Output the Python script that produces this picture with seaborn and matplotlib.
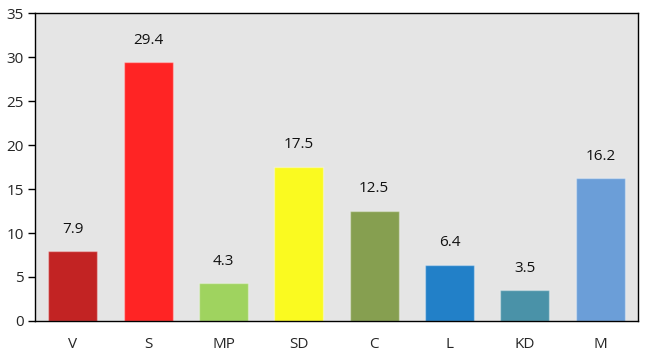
import matplotlib
matplotlib.use("Agg")
import matplotlib.pyplot as plt
import seaborn as sns
import pandas as pd

parties = ["V", "S", "MP", "SD", "C", "L", "KD", "M"]
values = [7.9, 29.4, 4.3, 17.5, 12.5, 6.4, 3.5, 16.2]
colors = ["#c22323", "#ff2424", "#9fd35f", "#fafa20", "#869f50", "#2280c8", "#4a92a8", "#6b9ed8"]
yticks = [0, 5, 10, 15, 20, 25, 30, 35]

sns.set_style("white")
plt.rcParams["font.family"] = ["Open Sans", "DejaVu Sans"]

df = pd.DataFrame({"party": parties, "value": values})

fig = plt.figure(figsize=(6.46, 3.55), dpi=100)
ax = fig.add_axes([35/646, 1 - 321/355, (638-35)/646, (321-13)/355])
ax.set_facecolor("#e5e5e5")

sns.barplot(data=df, x="party", y="value", hue="party", palette=colors,
            legend=False, width=0.65, ax=ax, saturation=1,
            edgecolor=(1, 1, 1, 0.35), linewidth=1)

for i, v in enumerate(values):
    ax.annotate(f"{v}", (i, v), xytext=(0, 10.5), textcoords="offset points",
                ha="center", va="bottom", fontsize=11, color="#111111")

ax.set_xlim(-0.5, len(parties) - 0.5)
ax.set_ylim(0, 35)
ax.set_yticks(yticks)
ax.set_xlabel("")
ax.set_ylabel("")
for s in ax.spines.values():
    s.set_visible(True)
    s.set_color("black")
    s.set_linewidth(1)
ax.tick_params(axis="y", left=True, length=5, width=1, color="black", labelsize=11, pad=3)
ax.tick_params(axis="x", bottom=False, labelsize=11, pad=8)

fig.savefig("out.png", dpi=100)
